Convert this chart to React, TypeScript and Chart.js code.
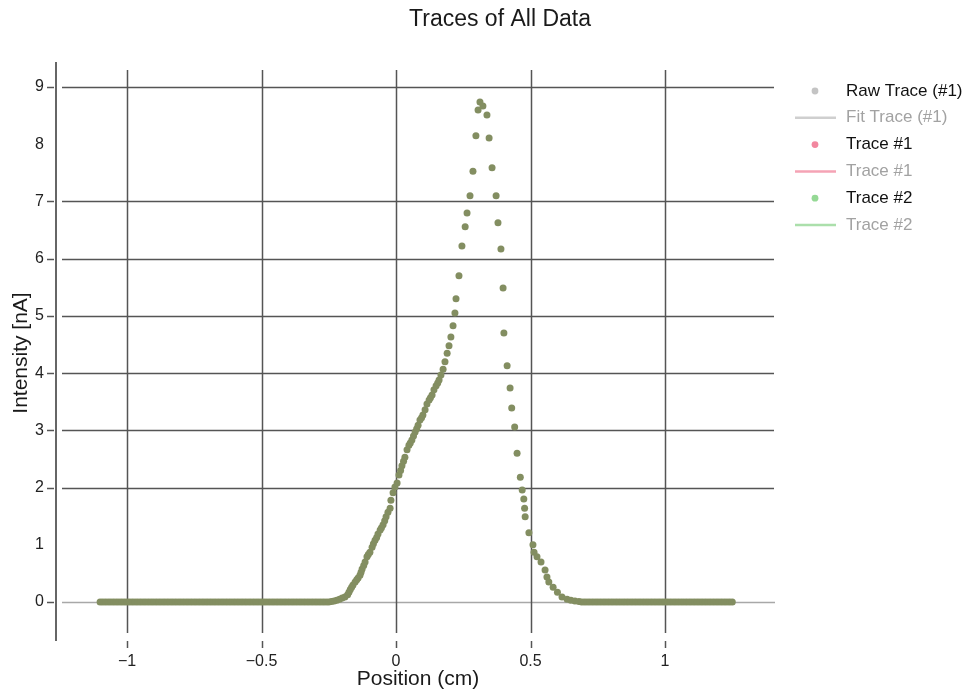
import React, { useEffect, useRef } from "react";
import { Chart, registerables } from "chart.js";

Chart.register(...registerables);

// ---- data ----
const positions: number[] = [
  -1.10, -1.09, -1.08, -1.07, -1.06, -1.05, -1.04, -1.03, -1.02, -1.01,
  -1.00, -0.99, -0.98, -0.97, -0.96, -0.95, -0.94, -0.93, -0.92, -0.91,
  -0.90, -0.89, -0.88, -0.87, -0.86, -0.85, -0.84, -0.83, -0.82, -0.81,
  -0.80, -0.79, -0.78, -0.77, -0.76, -0.75, -0.74, -0.73, -0.72, -0.71,
  -0.70, -0.69, -0.68, -0.67, -0.66, -0.65, -0.64, -0.63, -0.62, -0.61,
  -0.60, -0.59, -0.58, -0.57, -0.56, -0.55, -0.54, -0.53, -0.52, -0.51,
  -0.50, -0.49, -0.48, -0.47, -0.46, -0.45, -0.44, -0.43, -0.42, -0.41,
  -0.40, -0.39, -0.38, -0.37, -0.36, -0.35, -0.34, -0.33, -0.32, -0.31,
  -0.30, -0.29, -0.28, -0.27, -0.26, -0.25,
  -0.24, -0.23, -0.22, -0.21, -0.20, -0.19, -0.18, -0.175, -0.17, -0.165,
  -0.16, -0.152, -0.146, -0.141, -0.134, -0.13, -0.126, -0.12, -0.115, -0.108,
  -0.103, -0.097, -0.089, -0.084, -0.078, -0.072, -0.067, -0.059, -0.054, -0.048,
  -0.042, -0.037, -0.030, -0.022, -0.019, -0.011, -0.004, 0.004, 0.011, 0.017,
  0.022, 0.028, 0.033, 0.041, 0.048, 0.053, 0.059, 0.065, 0.071, 0.077,
  0.082, 0.089, 0.095, 0.100, 0.108, 0.115, 0.123, 0.128, 0.134, 0.141,
  0.149, 0.155, 0.160, 0.167, 0.175, 0.182, 0.190, 0.197, 0.204, 0.212,
  0.219, 0.223, 0.234, 0.245, 0.257, 0.264, 0.275, 0.286, 0.297, 0.305,
  0.312, 0.323, 0.338, 0.346, 0.357, 0.372, 0.379, 0.390, 0.398, 0.401,
  0.413, 0.424, 0.430, 0.441, 0.450, 0.462, 0.469, 0.475, 0.478, 0.480,
  0.494, 0.509, 0.513, 0.524, 0.539, 0.554, 0.561, 0.568, 0.584, 0.600,
  0.617, 0.636, 0.650, 0.665, 0.680,
  0.69, 0.70, 0.71, 0.72, 0.73, 0.74, 0.75, 0.76, 0.77, 0.78,
  0.79, 0.80, 0.81, 0.82, 0.83, 0.84, 0.85, 0.86, 0.87, 0.88,
  0.89, 0.90, 0.91, 0.92, 0.93, 0.94, 0.95, 0.96, 0.97, 0.98,
  0.99, 1.00, 1.01, 1.02, 1.03, 1.04, 1.05, 1.06, 1.07, 1.08,
  1.09, 1.10, 1.11, 1.12, 1.13, 1.14, 1.15, 1.16, 1.17, 1.18,
  1.19, 1.20, 1.21, 1.22, 1.23, 1.24, 1.25,
];

const intensities: number[] = [
  0, 0, 0, 0, 0, 0, 0, 0, 0, 0,
  0, 0, 0, 0, 0, 0, 0, 0, 0, 0,
  0, 0, 0, 0, 0, 0, 0, 0, 0, 0,
  0, 0, 0, 0, 0, 0, 0, 0, 0, 0,
  0, 0, 0, 0, 0, 0, 0, 0, 0, 0,
  0, 0, 0, 0, 0, 0, 0, 0, 0, 0,
  0, 0, 0, 0, 0, 0, 0, 0, 0, 0,
  0, 0, 0, 0, 0, 0, 0, 0, 0, 0,
  0, 0, 0, 0, 0, 0,
  0.01, 0.02, 0.03, 0.05, 0.07, 0.09, 0.13, 0.17, 0.22, 0.26,
  0.30, 0.35, 0.39, 0.42, 0.47, 0.52, 0.58, 0.64, 0.70, 0.79,
  0.83, 0.87, 0.96, 1.02, 1.08, 1.13, 1.19, 1.26, 1.30, 1.35,
  1.42, 1.49, 1.57, 1.64, 1.78, 1.91, 2.01, 2.08, 2.22, 2.30,
  2.38, 2.46, 2.53, 2.66, 2.74, 2.78, 2.83, 2.90, 2.97, 3.03,
  3.09, 3.18, 3.22, 3.27, 3.36, 3.46, 3.53, 3.57, 3.62, 3.71,
  3.78, 3.83, 3.88, 3.97, 4.07, 4.20, 4.35, 4.48, 4.63, 4.83,
  5.05, 5.30, 5.70, 6.22, 6.56, 6.80, 7.10, 7.53, 8.15, 8.60,
  8.74, 8.67, 8.51, 8.11, 7.59, 7.10, 6.63, 6.17, 5.49, 4.70,
  4.13, 3.74, 3.39, 3.06, 2.60, 2.18, 1.96, 1.80, 1.64, 1.49,
  1.21, 1.00, 0.87, 0.79, 0.70, 0.56, 0.44, 0.35, 0.26, 0.17,
  0.09, 0.05, 0.03, 0.02, 0.01,
  0, 0, 0, 0, 0, 0, 0, 0, 0, 0,
  0, 0, 0, 0, 0, 0, 0, 0, 0, 0,
  0, 0, 0, 0, 0, 0, 0, 0, 0, 0,
  0, 0, 0, 0, 0, 0, 0, 0, 0, 0,
  0, 0, 0, 0, 0, 0, 0, 0, 0, 0,
  0, 0, 0, 0, 0, 0, 0,
];

const xTickValues = [-1, -0.5, 0, 0.5, 1];
const xTickLabels = ["\u22121", "\u22120.5", "0", "0.5", "1"];
const yTickValues = [0, 1, 2, 3, 4, 5, 6, 7, 8, 9];
const yTickLabels = ["0", "1", "2", "3", "4", "5", "6", "7", "8", "9"];
const yTicksWithoutGrid = [1, 8];

const chartTitle = "Traces of All Data";
const xAxisTitle = "Position (cm)";
const yAxisTitle = "Intensity [nA]";

const legendLabels = ["Raw Trace (#1)", "Fit Trace (#1)", "Trace #1", "Trace #1", "Trace #2", "Trace #2"];
const legendKinds = ["dot", "line", "dot", "line", "dot", "line"];
const legendColors = ["#c4c4c4", "#cfcfcf", "#f2879f", "#f5a3b5", "#95d995", "#abdfab"];
const legendActive = [true, false, true, false, true, false];

const FONT = "'Liberation Sans', Arial, sans-serif";
const POINT_COLOR = "#838e61";

const decorPlugin = {
  id: "decor",
  beforeDatasetsDraw(chart: any) {
    const { ctx, chartArea } = chart;
    const xs = chart.scales.x;
    const ys = chart.scales.y;
    const { left, right, top, bottom } = chartArea;
    ctx.save();
    // horizontal grid lines
    yTickValues.forEach((v) => {
      if (yTicksWithoutGrid.includes(v)) return;
      const py = Math.round(ys.getPixelForValue(v)) + 0.5;
      ctx.beginPath();
      if (v === 0) {
        ctx.strokeStyle = "#a8a8a8";
        ctx.lineWidth = 1.5;
        ctx.moveTo(left, py);
        ctx.lineTo(right + 1, py);
      } else {
        ctx.strokeStyle = "#555555";
        ctx.lineWidth = 1.5;
        ctx.moveTo(left, py);
        ctx.lineTo(right, py);
      }
      ctx.stroke();
      // tick marks left of y axis
      ctx.beginPath();
      ctx.strokeStyle = "#555555";
      ctx.lineWidth = 1.5;
      ctx.moveTo(left - 15, py);
      ctx.lineTo(left - 8, py);
      ctx.stroke();
    });
    // vertical grid lines
    xTickValues.forEach((v) => {
      const px = Math.round(xs.getPixelForValue(v)) + 0.5;
      ctx.beginPath();
      ctx.strokeStyle = "#555555";
      ctx.lineWidth = 1.5;
      ctx.moveTo(px, top + 8);
      ctx.lineTo(px, bottom - 8);
      ctx.stroke();
      ctx.beginPath();
      ctx.moveTo(px, bottom);
      ctx.lineTo(px, bottom + 7);
      ctx.stroke();
    });
    // y axis line
    ctx.beginPath();
    ctx.strokeStyle = "#666666";
    ctx.lineWidth = 2;
    ctx.moveTo(left - 6, top);
    ctx.lineTo(left - 6, bottom);
    ctx.stroke();
    ctx.restore();
  },
  afterDraw(chart: any) {
    const { ctx, chartArea } = chart;
    ctx.save();
    // title
    ctx.fillStyle = "#1a1a1a";
    ctx.font = `23px ${FONT}`;
    ctx.textAlign = "center";
    ctx.textBaseline = "middle";
    ctx.fillText(chartTitle, 500, 20);
    // x axis title
    ctx.font = `21px ${FONT}`;
    ctx.fillText(xAxisTitle, 418, 679);
    // y axis title
    ctx.save();
    ctx.translate(21, 353);
    ctx.rotate(-Math.PI / 2);
    ctx.fillText(yAxisTitle, 0, 0);
    ctx.restore();
    // legend
    const legendX = chartArea.right + 21;
    const legendTop = 91;
    const rowGap = 26.8;
    ctx.font = `17px ${FONT}`;
    ctx.textAlign = "left";
    legendLabels.forEach((label, i) => {
      const cy = legendTop + i * rowGap;
      const color = legendColors[i];
      if (legendKinds[i] === "dot") {
        ctx.beginPath();
        ctx.fillStyle = color;
        ctx.arc(legendX + 20, cy, 3.4, 0, Math.PI * 2);
        ctx.fill();
      } else {
        ctx.beginPath();
        ctx.strokeStyle = color;
        ctx.lineWidth = 2.5;
        ctx.moveTo(legendX, cy);
        ctx.lineTo(legendX + 41, cy);
        ctx.stroke();
      }
      ctx.fillStyle = legendActive[i] ? "#111111" : "#a2a2a2";
      ctx.fillText(label, legendX + 51, cy);
    });
    ctx.restore();
  },
};

export default function App() {
  const canvasRef = useRef<HTMLCanvasElement | null>(null);

  useEffect(() => {
    document.body.style.margin = "0";
    const canvas = canvasRef.current;
    if (!canvas) return;
    const points = positions.map((x, i) => ({ x, y: intensities[i] }));
    const chart = new Chart(canvas, {
      type: "scatter",
      data: {
        datasets: [
          {
            label: legendLabels[0],
            data: points,
            backgroundColor: POINT_COLOR,
            borderColor: POINT_COLOR,
            borderWidth: 0,
            pointRadius: 3.5,
            pointHoverRadius: 3.5,
          },
        ],
      },
      options: {
        animation: false,
        responsive: false,
        maintainAspectRatio: false,
        events: [],
        layout: { padding: { left: 8, top: 62, right: 195, bottom: 0 } },
        plugins: {
          legend: { display: false },
          title: { display: false },
          tooltip: { enabled: false },
        },
        scales: {
          x: {
            type: "linear",
            min: -1.2416,
            max: 1.405,
            afterBuildTicks: (scale: any) => {
              scale.ticks = xTickValues.map((v) => ({ value: v }));
            },
            afterFit: (scale: any) => {
              scale.height = 51;
            },
            ticks: {
              autoSkip: false,
              maxRotation: 0,
              padding: 11,
              color: "#222222",
              font: { family: FONT, size: 16 },
              callback: (v: any) => {
                const idx = xTickValues.indexOf(Number(v));
                return idx >= 0 ? xTickLabels[idx] : "";
              },
            },
            grid: { display: false, drawTicks: false },
            border: { display: false },
          },
          y: {
            type: "linear",
            min: -0.68,
            max: 9.437,
            afterBuildTicks: (scale: any) => {
              scale.ticks = yTickValues.map((v) => ({ value: v }));
            },
            afterFit: (scale: any) => {
              scale.width = 54;
            },
            ticks: {
              autoSkip: false,
              padding: 18,
              color: "#222222",
              font: { family: FONT, size: 16 },
              callback: (v: any) => {
                const idx = yTickValues.indexOf(Number(v));
                return idx >= 0 ? yTickLabels[idx] : "";
              },
            },
            grid: { display: false, drawTicks: false },
            border: { display: false },
          },
        },
      },
      plugins: [decorPlugin],
    });
    return () => chart.destroy();
  }, []);

  return (
    <div style={{ width: 969, height: 692 }}>
      <canvas ref={canvasRef} width={969} height={692} style={{ display: "block" }} />
    </div>
  );
}
